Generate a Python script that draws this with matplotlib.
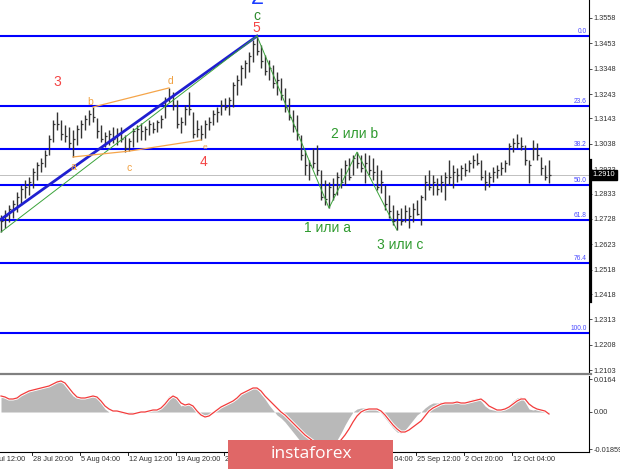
import numpy as np
import matplotlib.pyplot as plt
from matplotlib.patches import Rectangle
from matplotlib.lines import Line2D

plt.rcParams['font.family'] = ['Liberation Sans', 'DejaVu Sans']

# ---- H4 bars (price) ----
highs = [
    1.2744, 1.2765, 1.2785, 1.2806, 1.2839, 1.2868, 1.2889, 1.2901, 1.2938, 1.2963,
    1.2979, 1.3012, 1.3074, 1.3136, 1.3169, 1.3136, 1.3116, 1.3107, 1.3095, 1.3116,
    1.3136, 1.3157, 1.3178, 1.3190, 1.3145, 1.3116, 1.3087, 1.3095, 1.3107, 1.3103,
    1.3107, 1.3074, 1.3062, 1.3103, 1.3116, 1.3124, 1.3112, 1.3136, 1.3128, 1.3136,
    1.3157, 1.3231, 1.3269, 1.3252, 1.3219, 1.3149, 1.3198, 1.3252, 1.3169, 1.3136,
    1.3116, 1.3136, 1.3149, 1.3178, 1.3190, 1.3219, 1.3227, 1.3231, 1.3293, 1.3322,
    1.3364, 1.3384, 1.3417, 1.3467, 1.3483, 1.3446, 1.3405, 1.3384, 1.3364, 1.3335,
    1.3310, 1.3269, 1.3227, 1.3178, 1.3157, 1.3074, 1.3012, 1.2971, 1.3021, 1.3033,
    1.2930, 1.2889, 1.2880, 1.2897, 1.2922, 1.2938, 1.2971, 1.2979, 1.2992, 1.3004,
    1.2992, 1.3000, 1.2992, 1.2979, 1.2951, 1.2930, 1.2868, 1.2827, 1.2785, 1.2765,
    1.2773, 1.2785, 1.2777, 1.2794, 1.2806, 1.2827, 1.2909, 1.2930, 1.2909, 1.2897,
    1.2909, 1.2922, 1.2971, 1.2951, 1.2938, 1.2951, 1.2959, 1.2971, 1.2992, 1.3000,
    1.2971, 1.2930, 1.2922, 1.2942, 1.2951, 1.2963, 1.2971, 1.3041, 1.3062, 1.3079,
    1.3066, 1.3033, 1.2971, 1.3054, 1.3041, 1.2984, 1.2951, 1.2971,
]
lows = [
    1.2674, 1.2690, 1.2715, 1.2732, 1.2756, 1.2785, 1.2814, 1.2827, 1.2856, 1.2889,
    1.2922, 1.2942, 1.2992, 1.3046, 1.3095, 1.3054, 1.3046, 1.3021, 1.2984, 1.3033,
    1.3062, 1.3095, 1.3116, 1.3128, 1.3062, 1.3046, 1.3025, 1.3033, 1.3041, 1.3033,
    1.3046, 1.3004, 1.3008, 1.3025, 1.3046, 1.3054, 1.3054, 1.3074, 1.3083, 1.3087,
    1.3103, 1.3145, 1.3211, 1.3178, 1.3103, 1.3083, 1.3116, 1.3157, 1.3062, 1.3066,
    1.3054, 1.3062, 1.3095, 1.3116, 1.3128, 1.3157, 1.3178, 1.3157, 1.3190, 1.3240,
    1.3281, 1.3310, 1.3335, 1.3376, 1.3405, 1.3351, 1.3322, 1.3302, 1.3269, 1.3240,
    1.3219, 1.3169, 1.3136, 1.3087, 1.3054, 1.2971, 1.2909, 1.2889, 1.2938, 1.2909,
    1.2806, 1.2785, 1.2773, 1.2806, 1.2827, 1.2856, 1.2868, 1.2889, 1.2909, 1.2938,
    1.2922, 1.2876, 1.2909, 1.2889, 1.2847, 1.2835, 1.2765, 1.2732, 1.2703, 1.2682,
    1.2703, 1.2715, 1.2690, 1.2715, 1.2744, 1.2703, 1.2806, 1.2847, 1.2827, 1.2827,
    1.2839, 1.2806, 1.2868, 1.2856, 1.2880, 1.2889, 1.2905, 1.2922, 1.2938, 1.2951,
    1.2889, 1.2847, 1.2860, 1.2880, 1.2897, 1.2909, 1.2922, 1.2951, 1.3004, 1.3021,
    1.3012, 1.2951, 1.2876, 1.2971, 1.2971, 1.2909, 1.2889, 1.2876,
]
closes = [
    1.2720, 1.2740, 1.2770, 1.2790, 1.2820, 1.2850, 1.2860, 1.2880, 1.2920, 1.2950,
    1.2960, 1.2990, 1.3060, 1.3120, 1.3120, 1.3080, 1.3070, 1.3040, 1.3060, 1.3100,
    1.3120, 1.3140, 1.3160, 1.3150, 1.3090, 1.3060, 1.3070, 1.3080, 1.3060, 1.3080,
    1.3060, 1.3020, 1.3050, 1.3090, 1.3100, 1.3090, 1.3100, 1.3120, 1.3100, 1.3130,
    1.3140, 1.3220, 1.3230, 1.3200, 1.3120, 1.3130, 1.3180, 1.3180, 1.3080, 1.3100,
    1.3080, 1.3120, 1.3130, 1.3160, 1.3170, 1.3200, 1.3190, 1.3220, 1.3280, 1.3300,
    1.3350, 1.3370, 1.3400, 1.3450, 1.3420, 1.3380, 1.3340, 1.3350, 1.3290, 1.3300,
    1.3240, 1.3190, 1.3150, 1.3110, 1.3080, 1.2990, 1.2950, 1.2950, 1.2960, 1.2930,
    1.2820, 1.2810, 1.2860, 1.2830, 1.2900, 1.2880, 1.2950, 1.2900, 1.2980, 1.2960,
    1.2940, 1.2960, 1.2930, 1.2920, 1.2860, 1.2880, 1.2790, 1.2760, 1.2720, 1.2750,
    1.2720, 1.2760, 1.2740, 1.2770, 1.2750, 1.2820, 1.2880, 1.2860, 1.2880, 1.2850,
    1.2880, 1.2900, 1.2900, 1.2920, 1.2910, 1.2940, 1.2930, 1.2960, 1.2970, 1.2960,
    1.2900, 1.2880, 1.2900, 1.2920, 1.2930, 1.2940, 1.2960, 1.3030, 1.3040, 1.3040,
    1.3030, 1.2970, 1.2950, 1.3020, 1.2990, 1.2940, 1.2900, 1.2910,
]

# ---- MACD panel (histogram + signal) ----
macd_hist = [
    0.0075, 0.0070, 0.0065, 0.0070, 0.0080, 0.0095, 0.0105, 0.0110, 0.0115, 0.0120,
    0.0125, 0.0125, 0.0135, 0.0145, 0.0160, 0.0155, 0.0130, 0.0105, 0.0080, 0.0070,
    0.0070, 0.0075, 0.0080, 0.0080, 0.0070, 0.0045, 0.0015, 0.0, 0.0, 0.0,
    -0.0005, -0.0010, -0.0005, -0.0005, 0.0, 0.0005, 0.0005, 0.0010, 0.0010, 0.0015,
    0.0030, 0.0055, 0.0080, 0.0085, 0.0060, 0.0030, 0.0040, 0.0045, 0.0020, -0.0005,
    -0.0020, -0.0020, -0.0010, 0.0005, 0.0020, 0.0035, 0.0040, 0.0050, 0.0065, 0.0080,
    0.0095, 0.0105, 0.0120, 0.0125, 0.0115, 0.0090, 0.0065, 0.0035, 0.0010, -0.0015,
    -0.0030, -0.0050, -0.0075, -0.0100, -0.0125, -0.0150, -0.0170, -0.0185, -0.0195, -0.0195,
    -0.0195, -0.0190, -0.0180, -0.0165, -0.0140, -0.0105, -0.0065, -0.0030, 0.0, 0.0015,
    0.0020, 0.0020, 0.0020, 0.0015, 0.0010, -0.0005, -0.0030, -0.0055, -0.0080, -0.0100,
    -0.0105, -0.0090, -0.0065, -0.0040, -0.0015, 0.0, 0.0020, 0.0035, 0.0045, 0.0045,
    0.0050, 0.0050, 0.0050, 0.0055, 0.0050, 0.0045, 0.0050, 0.0060, 0.0065, 0.0070,
    0.0055, 0.0030, 0.0015, 0.0010, 0.0010, 0.0015, 0.0020, 0.0035, 0.0055, 0.0070,
    0.0075, 0.0050, 0.0015, 0.0010, 0.0015, 0.0015, 0.0005, -0.0010,
]
macd_signal = [
    0.0080, 0.0075, 0.0065, 0.0065, 0.0070, 0.0085, 0.0095, 0.0105, 0.0110, 0.0115,
    0.0120, 0.0125, 0.0130, 0.0140, 0.0150, 0.0155, 0.0145, 0.0120, 0.0095, 0.0075,
    0.0070, 0.0070, 0.0075, 0.0080, 0.0075, 0.0055, 0.0030, 0.0015, 0.0005, 0.0005,
    0.0, -0.0005, -0.0010, -0.0010, -0.0005, 0.0, 0.0, 0.0005, 0.0010, 0.0010,
    0.0020, 0.0040, 0.0065, 0.0080, 0.0070, 0.0045, 0.0035, 0.0040, 0.0030, 0.0005,
    -0.0015, -0.0025, -0.0020, -0.0005, 0.0010, 0.0025, 0.0035, 0.0045, 0.0055, 0.0070,
    0.0090, 0.0100, 0.0110, 0.0120, 0.0120, 0.0105, 0.0080, 0.0060, 0.0040, 0.0020,
    0.0, -0.0015, -0.0035, -0.0055, -0.0075, -0.0095, -0.0115, -0.0130, -0.0145, -0.0155,
    -0.0165, -0.0170, -0.0170, -0.0165, -0.0155, -0.0140, -0.0115, -0.0085, -0.0050, -0.0020,
    0.0, 0.0010, 0.0015, 0.0015, 0.0015, 0.0005, -0.0015, -0.0040, -0.0065, -0.0085,
    -0.0100, -0.0100, -0.0090, -0.0075, -0.0060, -0.0045, -0.0020, 0.0005, 0.0020, 0.0030,
    0.0040, 0.0045, 0.0045, 0.0045, 0.0050, 0.0045, 0.0045, 0.0050, 0.0055, 0.0060,
    0.0065, 0.0050, 0.0030, 0.0020, 0.0010, 0.0010, 0.0015, 0.0025, 0.0040, 0.0055,
    0.0065, 0.0065, 0.0040, 0.0025, 0.0015, 0.0010, 0.0005, -0.0010,
]

current_price = 1.2910
fib_high, fib_low = 1.3484, 1.2256
fib_levels = [0.0, 23.6, 38.2, 50.0, 61.8, 76.4, 100.0]
price_ticks = [1.3558, 1.3453, 1.3348, 1.3243, 1.3143, 1.3038, 1.2933, 1.2833,
               1.2728, 1.2623, 1.2518, 1.2418, 1.2313, 1.2208, 1.2103]
macd_ticks = [0.0164, 0.0, -0.01859]
macd_tick_labels = ["0.0164", "0.00", "-0.01859"]
time_labels = ["21 Jul 12:00", "28 Jul 20:00", "5 Aug 04:00", "12 Aug 12:00",
               "19 Aug 20:00", "27 Aug 04:00", "3 Sep 12:00", "10 Sep 20:00",
               "18 Sep 04:00", "25 Sep 12:00", "2 Oct 20:00", "12 Oct 04:00"]

# wave markup (bar indices into highs/lows)
impulse_from, impulse_to = 0, 64
zigzag_idx = [64, 82, 89, 99]
tri_lower_idx = [18, 32, 50]
tri_upper_idx = [23, 42]
channel_start = (-1, 1.2715)

wave_labels = [
    # text, bar, price, color, size
    ("3", 14.0, 1.3293, "#f44545", 10),
    ("4", 50.75, 1.2963, "#f44545", 10),
    ("5", 63.75, 1.3516, "#f44545", 10),
    ("c", 63.9, 1.3566, "#2e8b2e", 10),
    ("2", 64.0, 1.3642, "#1a3cff", 17),
    ("a", 18.0, 1.2942, "#f0a040", 7.5),
    ("b", 22.25, 1.3211, "#f0a040", 7.5),
    ("c", 32.0, 1.2938, "#f0a040", 7.5),
    ("d", 42.25, 1.3298, "#f0a040", 7.5),
    ("e", 51.0, 1.3021, "#f0a040", 6),
    ("2 или b", 88.5, 1.3079, "#2e9a2e", 10),
    ("1 или a", 81.5, 1.2690, "#2e9a2e", 10),
    ("3 или c", 99.75, 1.2620, "#2e9a2e", 10),
]

# ---- layout (pixel based, 620x469) ----
W, H = 620, 469
fig = plt.figure(figsize=(W / 100, H / 100), dpi=100)
fig.patch.set_facecolor("white")

x_right = 589
ax = fig.add_axes([0, 1 - 373 / H, x_right / W, 373 / H])
ax2 = fig.add_axes([0, 1 - 452 / H, x_right / W, 76 / H])

n = len(highs)
xs = np.arange(n)
xlim = (-0.25, (x_right - 1) / 4)

# price bars
ax.vlines(xs, lows, highs, color="#333333", lw=1.0, zorder=3)
ax.hlines(closes, xs, xs + 0.5, color="#333333", lw=0.9, zorder=3)

# fibonacci grid
for lvl in fib_levels:
    p = fib_high - (fib_high - fib_low) * lvl / 100.0
    ax.axhline(p, color="#0000ff", lw=1.5, zorder=2)
    ax.text(0.996, p + 0.0004, f"{lvl:.1f}", transform=ax.get_yaxis_transform(),
            ha="right", va="bottom", fontsize=4.8, color="#4a4aff", zorder=4)

ax.axhline(current_price, color="#c0c0c0", lw=0.7, zorder=1)

# wave lines
ax.plot([channel_start[0], impulse_to], [channel_start[1], highs[impulse_to]],
        color="#1f1fd0", lw=2.0, zorder=4)
ax.plot([impulse_from, impulse_to], [lows[impulse_from], highs[impulse_to]],
        color="#3aa33a", lw=0.7, zorder=4)
zz_y = [highs[i] if k % 2 == 0 else lows[i] for k, i in enumerate(zigzag_idx)]
ax.plot(zigzag_idx, zz_y, color="#3aa33a", lw=0.7, zorder=4)
ax.plot(tri_lower_idx, [lows[i] for i in tri_lower_idx], color="#f5a54a", lw=0.9, zorder=4)
ax.plot(tri_upper_idx, [highs[i] for i in tri_upper_idx], color="#f5a54a", lw=0.9, zorder=4)

for txt, bx, py, col, fs in wave_labels:
    ax.text(bx, py, txt, color=col, fontsize=fs, ha="center", va="center",
            zorder=5, clip_on=False)

ax.set_xlim(*xlim)
ax.set_ylim(1.2092, 1.3632)
for s in ["left", "top", "bottom"]:
    ax.spines[s].set_visible(False)
ax.spines["right"].set_linewidth(0.8)
ax.set_xticks([])
ax.yaxis.tick_right()
ax.set_yticks(price_ticks)
ax.set_yticklabels([f"{t:.4f}" for t in price_ticks])
ax.tick_params(axis="y", labelsize=5.3, length=2, width=0.6, pad=1.5, colors="#303030")

# thick marker on price scale and current price box
ax.plot([1.003, 1.003], [1.2971, 1.2385], transform=ax.get_yaxis_transform(),
        color="black", lw=1.6, clip_on=False, zorder=6)
ax.text(1.006, current_price, f"{current_price:.4f}", transform=ax.get_yaxis_transform(),
        ha="left", va="center", fontsize=5.3, color="white", zorder=7,
        bbox=dict(facecolor="black", edgecolor="black", pad=1.2))

# MACD panel
ax2.fill_between(xs, 0, macd_hist, color="#b9b9b9", lw=0, zorder=2)
ax2.plot(xs, macd_signal, color="white", lw=2.2, zorder=3)
ax2.plot(xs, macd_signal, color="#f23c3c", lw=0.9, zorder=4)
ax2.set_xlim(*xlim)
ax2.set_ylim(-0.020, 0.018)
ax2.spines["left"].set_visible(False)
ax2.spines["top"].set_visible(False)
ax2.spines["right"].set_linewidth(0.8)
ax2.spines["bottom"].set_linewidth(0.8)
ax2.yaxis.tick_right()
ax2.set_yticks(macd_ticks)
ax2.set_yticklabels(macd_tick_labels)
ax2.tick_params(axis="y", labelsize=5.3, length=2, width=0.6, pad=1.5, colors="#303030")

tick_pos = [7.75 + 12 * (k - 1) for k in range(len(time_labels))]
ax2.set_xticks([])
for tp, lab in zip(tick_pos, time_labels):
    ax2.plot([tp, tp], [0, -0.04], transform=ax2.get_xaxis_transform(),
             color="black", lw=0.6, clip_on=False)
    ax2.text(tp + 0.2, -0.10, lab, transform=ax2.get_xaxis_transform(),
             ha="left", va="center", fontsize=5.3, color="#303030", clip_on=False)

# panel separator
fig.add_artist(Line2D([0, (x_right + 2) / W], [1 - 374 / H, 1 - 374 / H],
                      color="#808080", lw=1.6))

# logo
fig.add_artist(Rectangle((228 / W, 0), (393 - 228) / W, (H - 440) / H,
                         facecolor="#e06767", edgecolor="none", zorder=10))
fig.text(311 / W, 1 - 454 / H, "instaforex", ha="center", va="center",
         fontsize=12.5, color="white", family="Open Sans", zorder=11)

fig.savefig("out.png", dpi=100, facecolor="white")
